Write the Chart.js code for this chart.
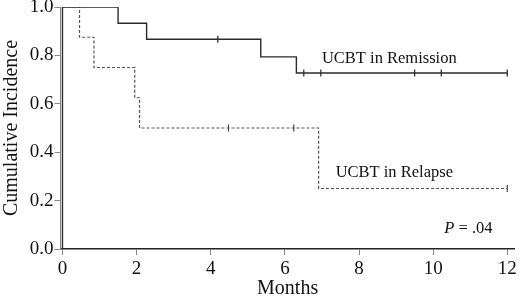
<!DOCTYPE html>
<html>
<head>
<meta charset="utf-8">
<script src="https://cdn.jsdelivr.net/npm/chart.js"></script>
<style>
  html, body { margin: 0; padding: 0; background: #fff; }
  #wrap { width: 520px; height: 299px; }
</style>
</head>
<body>
<div id="wrap"><canvas id="c"></canvas></div>
<script>
// step curves (months, cumulative incidence)
const remissionTimes = [0, 0, 1.50, 2.27, 5.35, 6.31, 12.0];
const remissionValues = [0, 1.0, 0.933, 0.867, 0.794, 0.727, 0.727];
const relapseTimes = [0, 0.46, 0.85, 1.95, 2.08, 6.91, 12.0];
const relapseValues = [1.0, 0.875, 0.75, 0.625, 0.5, 0.25, 0.25];

// censored observations (months)
const remissionCensor = [4.19, 6.51, 6.97, 9.50, 10.22, 12.0];
const relapseCensor = [4.48, 6.24, 12.0];

const xTicks = [0, 2, 4, 6, 8, 10, 12];
const yTicks = [0, 0.2, 0.4, 0.6, 0.8, 1.0];

const SERIF = "'Liberation Serif', 'Times New Roman', serif";
Chart.defaults.font.family = SERIF;
Chart.defaults.color = '#111';

function valueAt(times, values, t) {
  let v = values[0];
  times.forEach((tt, i) => {
    if (tt <= t) v = values[i];
  });
  return v;
}

const toPoints = (xs, ys) => xs.map((x, i) => ({ x, y: ys[i] }));
const censorPoints = (cs, times, values) => cs.map((t) => ({ x: t, y: valueAt(times, values, t) }));

// text labels inside the plot
const labels = [
  { text: 'UCBT in Remission', x: 7.0, y: 0.785 },
  { text: 'UCBT in Relapse', x: 7.37, y: 0.314 },
];

const textPlugin = {
  id: 'plotText',
  afterDatasetsDraw(chart) {
    const { ctx, scales: { x, y } } = chart;
    ctx.save();
    ctx.fillStyle = '#111';
    ctx.textBaseline = 'middle';
    ctx.font = '16.5px ' + SERIF;
    labels.forEach((l) => {
      ctx.fillText(l.text, x.getPixelForValue(l.x), y.getPixelForValue(l.y));
    });
    // P value
    let px = x.getPixelForValue(10.3);
    const py = y.getPixelForValue(0.083);
    ctx.font = 'italic 16.5px ' + SERIF;
    ctx.fillText('P', px, py);
    px += ctx.measureText('P').width;
    ctx.font = '16.5px ' + SERIF;
    ctx.fillText(' = .04', px, py);
    ctx.restore();
  },
};

new Chart(document.getElementById('c'), {
  type: 'scatter',
  data: {
    datasets: [{
      label: 'UCBT in Remission',
      data: toPoints(remissionTimes, remissionValues),
      showLine: true,
      stepped: 'before',
      borderColor: '#2a2a2a',
      borderWidth: 1.4,
      pointRadius: 0,
    }, {
      label: 'UCBT in Relapse',
      data: toPoints(relapseTimes, relapseValues),
      showLine: true,
      stepped: 'before',
      borderColor: '#555',
      borderWidth: 1.2,
      borderDash: [3, 2],
      pointRadius: 0,
    }, {
      label: 'Remission censored',
      data: censorPoints(remissionCensor, remissionTimes, remissionValues),
      showLine: false,
      pointStyle: 'line',
      rotation: 90,
      pointRadius: 3.5,
      borderColor: '#333',
      borderWidth: 1.3,
    }, {
      label: 'Relapse censored',
      data: censorPoints(relapseCensor, relapseTimes, relapseValues),
      showLine: false,
      pointStyle: 'line',
      rotation: 90,
      pointRadius: 3.5,
      borderColor: '#444',
      borderWidth: 1.2,
    }],
  },
  options: {
    responsive: true,
    maintainAspectRatio: false,
    animation: false,
    layout: { padding: { top: 7, right: 0, left: 0, bottom: 0 } },
    plugins: {
      legend: { display: false },
      tooltip: { enabled: false },
    },
    scales: {
      x: {
        type: 'linear',
        min: -0.053,
        max: 12.2,
        afterBuildTicks: (s) => { s.ticks = xTicks.map((v) => ({ value: v })); },
        afterFit: (s) => {
          s.height = 50;
          s.paddingLeft = 0;
          s.paddingRight = 0;
        },
        border: { display: true, color: '#222', width: 1.5 },
        grid: { drawOnChartArea: false, tickLength: 6, color: '#888' },
        ticks: { color: '#111', padding: 3, font: { family: SERIF, size: 19 } },
        title: {
          display: true,
          text: 'Months',
          color: '#111',
          padding: 0,
          font: { family: SERIF, size: 20, lineHeight: 1 },
        },
      },
      y: {
        min: 0,
        max: 1,
        afterBuildTicks: (s) => { s.ticks = yTicks.map((v) => ({ value: v })); },
        afterFit: (s) => {
          s.width = 60.5;
          s.paddingTop = 0;
          s.paddingBottom = 0;
        },
        border: { display: true, color: '#888', width: 1 },
        grid: { drawOnChartArea: false, tickLength: 6, color: '#888' },
        ticks: {
          color: '#111',
          padding: 1,
          font: { family: SERIF, size: 19 },
          callback: (v) => v.toFixed(1),
        },
        title: {
          display: true,
          text: 'Cumulative Incidence',
          color: '#111',
          padding: 0,
          font: { family: SERIF, size: 20 },
        },
      },
    },
  },
  plugins: [textPlugin],
});
</script>
</body>
</html>
